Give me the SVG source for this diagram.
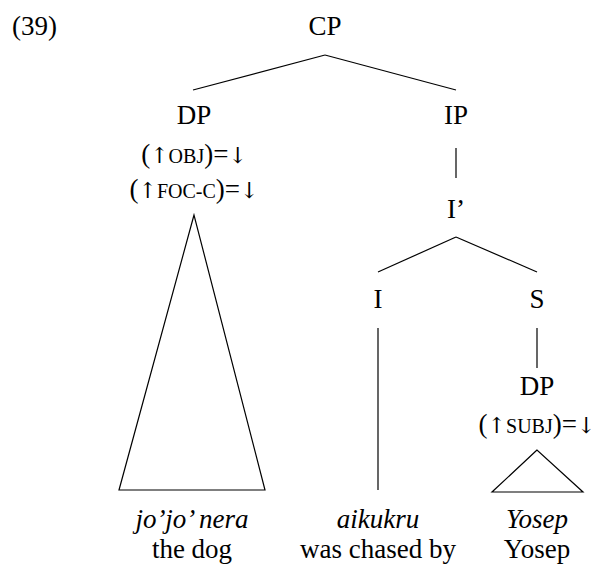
<svg xmlns="http://www.w3.org/2000/svg" width="602" height="570" viewBox="0 0 602 570">
<rect width="602" height="570" fill="#fff"/>
<g font-family="Liberation Serif" font-size="27" fill="#000">
<text x="12" y="35">(39)</text>
</g>
<g id="connectors" stroke="#000" stroke-width="1.2" fill="none">
<line x1="325" y1="55" x2="193" y2="90"/>
<line x1="325" y1="55" x2="456" y2="90"/>
<line x1="456" y1="148" x2="456" y2="178"/>
<line x1="456" y1="237" x2="378" y2="272"/>
<line x1="456" y1="237" x2="537" y2="272"/>
<line x1="378" y1="328" x2="378" y2="490"/>
<line x1="537" y1="328" x2="537" y2="368"/>
<polygon points="194,215 119,490 265,490"/>
<polygon points="537,450 492,492 583,492"/>
</g>
<g font-family="Liberation Serif" font-size="27" text-anchor="middle" fill="#000">
<g id="cp"><text x="325" y="35">CP</text></g>
<g id="dp1"><text x="194" y="124">DP</text>
<text x="194" y="163">(<tspan font-family="DejaVu Serif" font-size="22">↑</tspan><tspan font-size="20">OBJ</tspan>)=<tspan font-family="DejaVu Serif" font-size="22">↓</tspan></text>
<text x="194" y="198">(<tspan font-family="DejaVu Serif" font-size="22">↑</tspan><tspan font-size="20">FOC-C</tspan>)=<tspan font-family="DejaVu Serif" font-size="22">↓</tspan></text></g>
<g id="ip"><text x="456" y="124">IP</text></g>
<g id="ibar"><text x="456" y="218">I’</text></g>
<g id="i"><text x="378" y="308">I</text></g>
<g id="s"><text x="537" y="308">S</text></g>
<g id="dp2"><text x="537" y="395">DP</text>
<text x="537" y="433">(<tspan font-family="DejaVu Serif" font-size="22">↑</tspan><tspan font-size="20">SUBJ</tspan>)=<tspan font-family="DejaVu Serif" font-size="22">↓</tspan></text></g>
<g id="w1"><text font-style="italic" x="192" y="528">jo’jo’ nera</text><text x="192" y="558">the dog</text></g>
<g id="w2"><text font-style="italic" x="378" y="528">aikukru</text><text x="378" y="558">was chased by</text></g>
<g id="w3"><text font-style="italic" x="537" y="528">Yosep</text><text x="537" y="558">Yosep</text></g>
</g>
</svg>
